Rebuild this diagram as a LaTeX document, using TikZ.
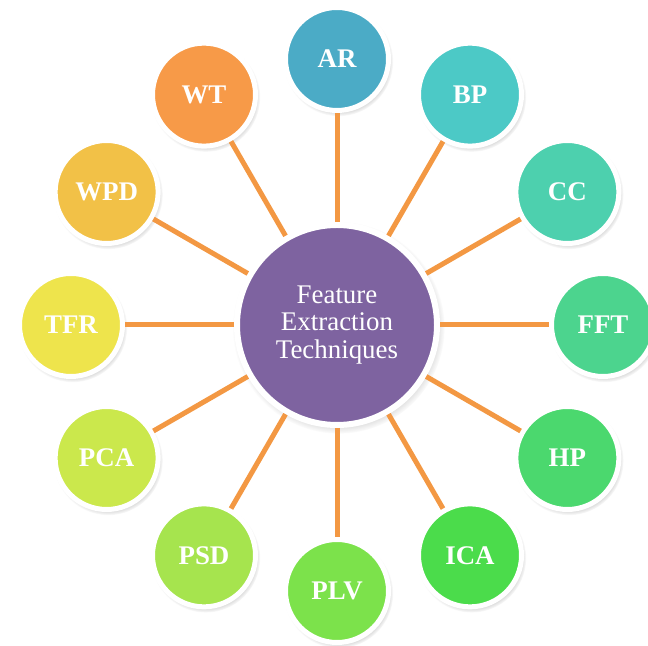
\documentclass[tikz,border=0pt]{standalone}
\usepackage{fontspec}
\setmainfont{Liberation Serif}
\usetikzlibrary{shadows}
\definecolor{cAR}{HTML}{4BABC6}
\definecolor{cBP}{HTML}{4CC9C6}
\definecolor{cCC}{HTML}{4DD0AE}
\definecolor{cFFT}{HTML}{4CD48E}
\definecolor{cHP}{HTML}{4BD86E}
\definecolor{cICA}{HTML}{4BDC4B}
\definecolor{cPLV}{HTML}{7CE24B}
\definecolor{cPSD}{HTML}{A6E44E}
\definecolor{cPCA}{HTML}{CBE84C}
\definecolor{cTFR}{HTML}{EEE44C}
\definecolor{cWPD}{HTML}{F2C147}
\definecolor{cWT}{HTML}{F79A48}
\definecolor{cCenter}{HTML}{7E63A0}
\definecolor{cLink}{HTML}{F39843}
\tikzset{
  softshadow/.style={circular drop shadow={shadow xshift=1.5bp, shadow yshift=-2.5bp, shadow scale=1.06, opacity=0.45, fill=black!55}},
  leaf/.style={circle, draw=white, line width=5bp, minimum size=103bp, inner sep=0pt,
    text=white, font=\fontsize{27}{30}\selectfont\bfseries, softshadow},
  hub/.style={circle, draw=white, line width=6bp, minimum size=200bp, inner sep=0pt,
    fill=cCenter, text=white, align=center, font=\fontsize{27}{27.5}\selectfont, softshadow},
  link/.style={draw=cLink, line width=5bp}
}
\begin{document}
\begin{tikzpicture}[x=1bp,y=1bp]
\useasboundingbox (0,0) rectangle (648,646);
\node[hub] (c) at (337,321) {Feature\\Extraction\\Techniques};
\foreach \ang/\lab in {90/AR,60/BP,30/CC,0/FFT,-30/HP,-60/ICA,-90/PLV,-120/PSD,-150/PCA,180/TFR,150/WPD,120/WT}{
  \node[leaf, fill=c\lab] (n\lab) at ([shift={(\ang:266)}]337,321) {\lab};
  \draw[link] (c) -- (n\lab);
}
\end{tikzpicture}
\end{document}
